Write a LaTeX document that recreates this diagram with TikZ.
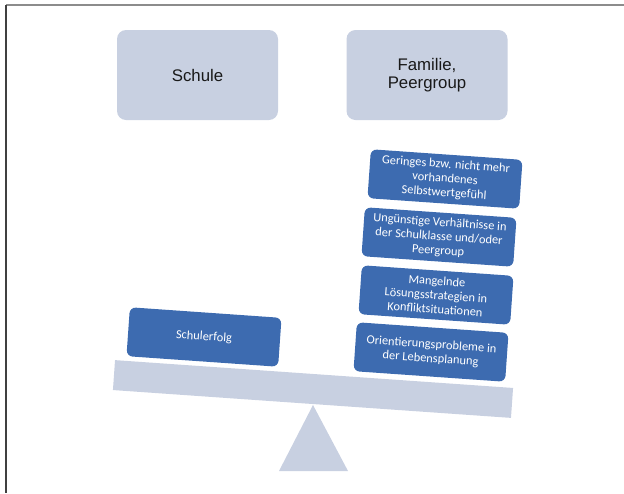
\documentclass[tikz,border=0pt]{standalone}
\usepackage{fontspec}
\setmainfont{Liberation Sans}
\newfontfamily\calibri{Carlito}
\definecolor{lightbox}{RGB}{200,208,225}
\definecolor{darkbox}{RGB}{61,107,176}

\begin{document}
\begin{tikzpicture}[x = 1pt, y = -1pt,
  headbox/.style = {fill=lightbox, rounded corners=9pt, minimum width=161pt, minimum height=90pt, align=center, text=black!90, font=\fontsize{16.8}{17.5}\selectfont},
  factor/.style = {fill=darkbox, rounded corners=6pt, minimum width=152pt, minimum height=49pt, inner sep=2pt, align=center, text=white, rotate=-4, font=\calibri\fontsize{12.4}{14.2}\selectfont}]
\useasboundingbox (0,0) rectangle (624,493);
\draw[line width=1.5pt, black!45] (6,5) -- (624,5);
\draw[line width=1.5pt, black!75] (6,5) -- (6,493);

\node[headbox] (SCH) at (197.5,75) {Schule};
\node[headbox] (FAM) at (427,75) {Familie,\\Peergroup};

% Waage
\fill[lightbox] (313,405) -- (348,471) -- (279,471) -- cycle;
\node[fill=lightbox, rotate=-4, minimum width=399pt, minimum height=30pt, inner sep=0pt] (B) at (313,389) {};

\node[factor] (ERF) at (204,337) {Schulerfolg};
\node[factor] (W1) at (445,179) {Geringes bzw. nicht mehr\\vorhandenes\\Selbstwertgefühl};
\node[factor] (W2) at (439,237) {Ungünstige Verhältnisse in\\der Schulklasse und/oder\\Peergroup};
\node[factor] (W3) at (436,295) {Mangelnde\\Lösungsstrategien in\\Konfliktsituationen};
\node[factor] (W4) at (431,352) {Orientierungsprobleme in\\der Lebensplanung};
\end{tikzpicture}
\end{document}
